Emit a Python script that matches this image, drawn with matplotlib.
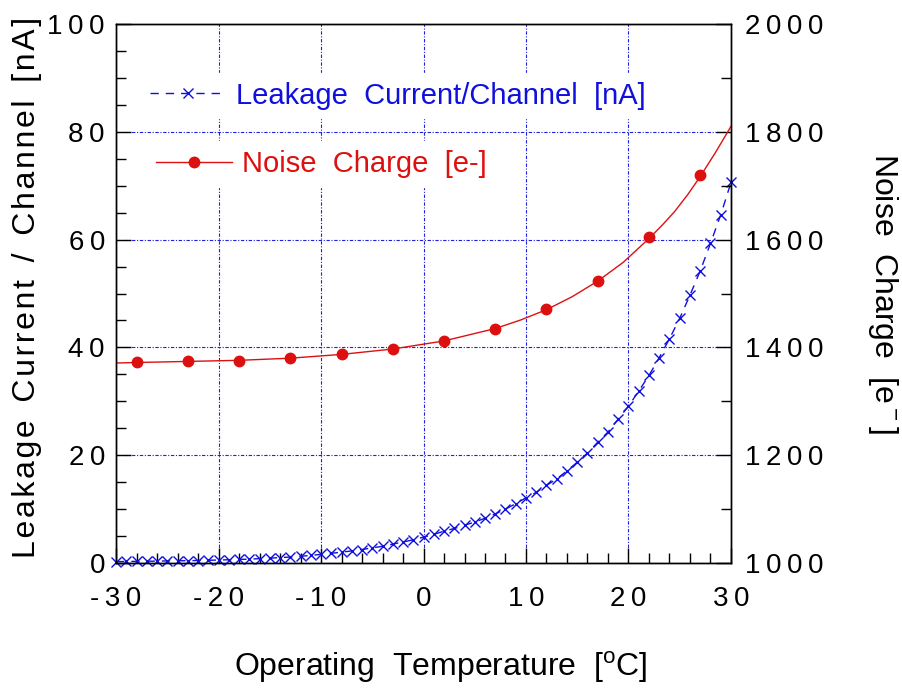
import matplotlib
matplotlib.use("Agg")
import matplotlib.pyplot as plt
from matplotlib.ticker import MultipleLocator, FuncFormatter

plt.rcParams['font.family'] = ['Liberation Sans', 'DejaVu Sans']
plt.rcParams['mathtext.fontset'] = 'custom'
plt.rcParams['mathtext.rm'] = 'Liberation Sans'
plt.rcParams['axes.unicode_minus'] = False

# Leakage current per channel [nA], every 1 degC
temp_leak = list(range(-30, 31))
leak_nA = [0.25, 0.28, 0.30, 0.32, 0.35, 0.38, 0.40, 0.43, 0.46, 0.50,
           0.55, 0.60, 0.65, 0.72, 0.80, 0.90, 1.0, 1.1, 1.25, 1.4,
           1.6, 1.8, 2.0, 2.25, 2.5, 2.8, 3.1, 3.5, 3.9, 4.3,
           4.8, 5.3, 5.9, 6.4, 7.0, 7.6, 8.3, 9.1, 10.0, 11.0,
           12.1, 13.1, 14.4, 15.6, 17.1, 18.7, 20.4, 22.4, 24.3, 26.7,
           29.1, 31.9, 34.8, 38.1, 41.6, 45.4, 49.7, 54.2, 59.3, 64.6, 70.6]

# Noise charge [e-] measured points
temp_noise = [-28, -23, -18, -13, -8, -3, 2, 7, 12, 17, 22, 27]
noise_e = [1372, 1374, 1375, 1380, 1387, 1397, 1412, 1434, 1471, 1523, 1604, 1719]

# Fitted noise curve
temp_fit = [-30, -28, -23, -18, -13, -8, -3, 2, 7, 9.5, 12, 14.5, 17, 19.5, 22,
            23.3, 24.5, 25.8, 27, 28.5, 30]
noise_fit = [1371, 1372, 1374, 1376, 1380, 1387, 1397, 1412, 1435, 1451, 1470, 1494,
             1523, 1558, 1602, 1627, 1652, 1684, 1717, 1762, 1810]

BLUE = '#1010DD'
RED = '#DD1010'
GRID = '#2020E0'
TSP = '\u2009'
HSP = '\u200a'


def spaced(v, pos):
    return TSP.join(f'{v:.0f}')


def tracked(text):
    return '  '.join(HSP.join(w) for w in text.split(' '))


fig = plt.figure(figsize=(9.03, 6.88), dpi=100)
ax = fig.add_axes([0.1285, 0.1817, 0.681, 0.7834])
ax2 = ax.twinx()

ax.set_xlim(-30, 30)
ax.set_ylim(0, 100)
ax2.set_ylim(1000, 2000)

ax.xaxis.set_major_locator(MultipleLocator(10))
ax.xaxis.set_minor_locator(MultipleLocator(2))
ax.yaxis.set_major_locator(MultipleLocator(20))
ax.yaxis.set_minor_locator(MultipleLocator(5))
ax2.yaxis.set_major_locator(MultipleLocator(200))
ax2.yaxis.set_minor_locator(MultipleLocator(100))
ax.xaxis.set_major_formatter(FuncFormatter(spaced))
ax.yaxis.set_major_formatter(FuncFormatter(spaced))
ax2.yaxis.set_major_formatter(FuncFormatter(spaced))

ax.grid(True, which='major', color=GRID, linestyle=(0, (3, 1.5, 1, 1.5)), linewidth=0.8)

ax.tick_params(axis='both', which='both', direction='in', labelsize=20, width=1)
ax.tick_params(axis='both', which='major', length=11)
ax.tick_params(axis='both', which='minor', length=7)
ax.tick_params(axis='y', pad=8)
ax.tick_params(axis='x', pad=16.5)
ax2.tick_params(axis='y', which='both', direction='in', labelsize=20, width=1, pad=10)
ax2.tick_params(axis='y', which='major', length=11)
ax2.tick_params(axis='y', which='minor', length=7)

for a in (ax, ax2):
    for s in a.spines.values():
        s.set_linewidth(1.0)

l1, = ax.plot(temp_leak, leak_nA, color=BLUE, linestyle=(0, (6, 5)), linewidth=1.0,
              marker='x', markersize=7, markeredgewidth=1.0,
              label='Leakage  Current/Channel  [nA]', clip_on=False)
ax2.plot(temp_fit, noise_fit, color=RED, linewidth=1.0)
ax2.plot(temp_noise, noise_e, linestyle='none', marker='o', markersize=7.5, color=RED)
l2, = ax2.plot([], [], color=RED, linewidth=1.0, marker='o', markersize=7.5,
               label='Noise  Charge  [e-]')

ax.set_xlabel(r'Operating  Temperature  [$^{\rm o}$C]', fontsize=23)
ax.xaxis.set_label_coords(0.528, -0.161)
ax.set_ylabel(tracked('Leakage Current / Channel [nA]'), fontsize=23)
ax.yaxis.set_label_coords(-0.121, 0.511)
ax2.set_ylabel(r'Noise  Charge  [e$^{\rm -}$]', fontsize=23, rotation=270, labelpad=55)

leg1 = ax2.legend(handles=[l1], loc='center left', bbox_to_anchor=(0.0415, 0.867),
                  fontsize=21, frameon=True, facecolor='white', edgecolor='white',
                  framealpha=1, fancybox=False, handlelength=2.6, handletextpad=0.33,
                  labelcolor='linecolor', borderpad=0.3, borderaxespad=0)
ax2.add_artist(leg1)
leg2 = ax2.legend(handles=[l2], loc='center left', bbox_to_anchor=(0.051, 0.74),
                  fontsize=21, frameon=True, facecolor='white', edgecolor='white',
                  framealpha=1, fancybox=False, handlelength=2.6, handletextpad=0.33,
                  labelcolor='linecolor', borderpad=0.3, borderaxespad=0)

fig.savefig('out.png', dpi=100)
